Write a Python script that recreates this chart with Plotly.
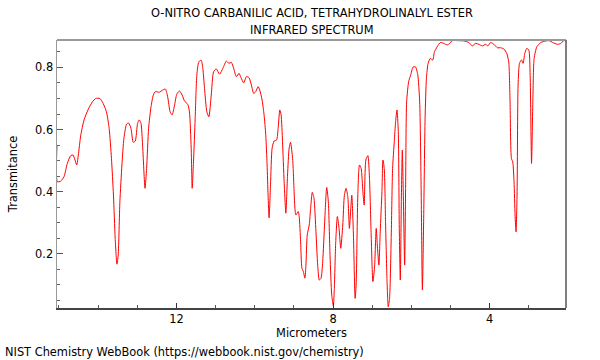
import plotly.graph_objects as go

wavelength_um = [
    15.05, 15.04, 14.956, 14.872, 14.787, 14.700, 14.641, 14.590, 14.546, 14.505,
    14.443, 14.359, 14.248, 14.146, 14.059, 13.956, 13.872, 13.787, 13.718, 13.659,
    13.608, 13.564, 13.520, 13.487, 13.444, 13.392, 13.341, 13.274, 13.223, 13.161,
    13.103, 13.051, 12.992, 12.948, 12.905, 12.864, 12.802, 12.761, 12.710, 12.649,
    12.590, 12.538, 12.436, 12.351, 12.282, 12.223, 12.162, 12.110, 12.051, 11.992,
    11.923, 11.854, 11.795, 11.710, 11.667, 11.623, 11.597, 11.564, 11.521, 11.479,
    11.428, 11.367, 11.326, 11.282, 11.223, 11.172, 11.110, 11.051, 10.982, 10.897,
    10.813, 10.726, 10.659, 10.597, 10.538, 10.469, 10.402, 10.351, 10.282, 10.213,
    10.146, 10.085, 10.026, 9.974, 9.915, 9.872, 9.812, 9.761, 9.718, 9.684,
    9.659, 9.633, 9.597, 9.556, 9.505, 9.443, 9.402, 9.359, 9.326, 9.290,
    9.249, 9.205, 9.162, 9.121, 9.085, 9.033, 9.018, 8.974, 8.949, 8.890,
    8.864, 8.828, 8.795, 8.762, 8.718, 8.692, 8.659, 8.608, 8.572, 8.530,
    8.487, 8.436, 8.392, 8.351, 8.308, 8.264, 8.213, 8.162, 8.120, 8.077,
    8.033, 7.992, 7.967, 7.931, 7.890, 7.846, 7.803, 7.751, 7.710, 7.667,
    7.623, 7.582, 7.546, 7.521, 7.479, 7.436, 7.410, 7.367, 7.325, 7.282,
    7.238, 7.205, 7.162, 7.110, 7.069, 7.026, 6.982, 6.941, 6.897, 6.864,
    6.828, 6.795, 6.751, 6.726, 6.692, 6.659, 6.623, 6.590, 6.556, 6.513,
    6.479, 6.436, 6.402, 6.367, 6.333, 6.308, 6.282, 6.256, 6.231, 6.205,
    6.171, 6.146, 6.120, 6.069, 6.018, 5.956, 5.897, 5.838, 5.787, 5.751,
    5.718, 5.685, 5.649, 5.615, 5.572, 5.513, 5.454, 5.410, 5.341, 5.256,
    5.172, 5.085, 5.018, 4.956, 4.828, 4.659, 4.531, 4.444, 4.359, 4.274,
    4.187, 4.103, 4.044, 3.974, 3.890, 3.803, 3.718, 3.633, 3.564, 3.513,
    3.479, 3.444, 3.410, 3.377, 3.351, 3.326, 3.300, 3.274, 3.238, 3.187,
    3.146, 3.103, 3.051, 3.000, 2.966, 2.930, 2.897, 2.864, 2.795, 2.692,
    2.564, 2.479, 2.392, 2.264, 2.179, 2.110, 2.050,
]

transmittance = [
    0.550, 0.432, 0.434, 0.448, 0.491, 0.516, 0.518, 0.502, 0.486, 0.518,
    0.582, 0.631, 0.666, 0.689, 0.700, 0.700, 0.684, 0.657, 0.604, 0.507,
    0.389, 0.250, 0.167, 0.196, 0.368, 0.486, 0.572, 0.617, 0.621, 0.604,
    0.559, 0.563, 0.620, 0.631, 0.620, 0.550, 0.411, 0.475, 0.604, 0.673,
    0.711, 0.722, 0.720, 0.727, 0.730, 0.705, 0.657, 0.647, 0.676, 0.713,
    0.724, 0.711, 0.692, 0.681, 0.657, 0.540, 0.411, 0.496, 0.636, 0.775,
    0.818, 0.823, 0.797, 0.732, 0.657, 0.641, 0.711, 0.786, 0.795, 0.778,
    0.797, 0.820, 0.813, 0.816, 0.797, 0.770, 0.781, 0.767, 0.750, 0.770,
    0.767, 0.743, 0.716, 0.722, 0.738, 0.727, 0.695, 0.647, 0.582, 0.486,
    0.389, 0.316, 0.422, 0.540, 0.563, 0.566, 0.604, 0.663, 0.647, 0.561,
    0.432, 0.331, 0.454, 0.540, 0.559, 0.507, 0.475, 0.347, 0.325, 0.336,
    0.320, 0.239, 0.154, 0.145, 0.122, 0.164, 0.261, 0.293, 0.347, 0.398,
    0.379, 0.271, 0.164, 0.116, 0.121, 0.175, 0.304, 0.414, 0.368, 0.196,
    0.068, 0.033, 0.089, 0.239, 0.320, 0.282, 0.218, 0.293, 0.389, 0.411,
    0.384, 0.282, 0.347, 0.389, 0.261, 0.057, 0.100, 0.389, 0.486, 0.475,
    0.400, 0.357, 0.502, 0.516, 0.443, 0.261, 0.111, 0.154, 0.282, 0.218,
    0.164, 0.271, 0.400, 0.502, 0.475, 0.304, 0.121, 0.030, 0.057, 0.261,
    0.475, 0.561, 0.625, 0.663, 0.593, 0.282, 0.116, 0.368, 0.534, 0.389,
    0.164, 0.422, 0.689, 0.754, 0.775, 0.801, 0.802, 0.778, 0.689, 0.422,
    0.084, 0.314, 0.636, 0.765, 0.813, 0.829, 0.823, 0.850, 0.866, 0.880,
    0.877, 0.872, 0.877, 0.886, 0.886, 0.885, 0.880, 0.869, 0.877, 0.874,
    0.869, 0.874, 0.869, 0.880, 0.874, 0.863, 0.863, 0.859, 0.845, 0.818,
    0.689, 0.507, 0.496, 0.432, 0.325, 0.271, 0.389, 0.743, 0.813, 0.824,
    0.813, 0.845, 0.861, 0.856, 0.775, 0.491, 0.689, 0.829, 0.866, 0.880,
    0.885, 0.886, 0.880, 0.874, 0.877, 0.886, 0.885,
]

x_tick_values = [12, 8, 4]
y_tick_values = [0.2, 0.4, 0.6, 0.8]

title_lines = ["O-NITRO CARBANILIC ACID, TETRAHYDROLINALYL ESTER", "INFRARED SPECTRUM"]
footer_text = "NIST Chemistry WebBook (https://webbook.nist.gov/chemistry)"

fig = go.Figure()
fig.add_trace(go.Scatter(
    x=wavelength_um, y=transmittance, mode="lines",
    line=dict(color="#ff0000", width=1, shape="spline", smoothing=0.6),
    hoverinfo="skip", showlegend=False,
))

font = dict(family="DejaVu Sans", size=11.4, color="black")
L, R, T, B = 57, 34, 40, 52
plot_w = 600 - L - R
plot_h = 360 - T - B

fig.update_layout(
    width=600, height=360,
    margin=dict(l=L, r=R, t=T, b=B, autoexpand=False),
    paper_bgcolor="white", plot_bgcolor="white",
    font=font,
    xaxis=dict(
        range=[15.05, 2.05], tickvals=x_tick_values, automargin=False,
        ticks="inside", ticklen=5, tickcolor="#333", tickwidth=1,
        minor=dict(dtick=1, tick0=0, ticks="inside", ticklen=3, tickcolor="#555"),
        showline=True, linecolor="#444", linewidth=1.5, mirror=False,
        showgrid=False, zeroline=False,
        title=dict(text="Micrometers", standoff=2, font=font),
        tickfont=font,
    ),
    yaxis=dict(
        range=[0.026, 0.888], tickvals=y_tick_values, automargin=False,
        ticks="inside", ticklen=6, tickcolor="#555", tickwidth=1,
        minor=dict(dtick=0.05, tick0=0, ticks="inside", ticklen=3, tickcolor="#666"),
        showline=True, linecolor="#999", linewidth=1.5, mirror=False,
        showgrid=False, zeroline=False,
        title=dict(text="Transmitance", standoff=15, font=font),
        tickfont=font,
    ),
    shapes=[
        dict(type="line", xref="paper", yref="paper", x0=0, x1=1, y0=1, y1=1,
             line=dict(color="#9a9a9a", width=2), layer="above"),
        dict(type="line", xref="paper", yref="paper", x0=1, x1=1, y0=0, y1=1,
             line=dict(color="#555", width=1.5), layer="above"),
    ],
    annotations=[
        dict(text=title_lines[0], x=(311.5 - L) / plot_w, xref="paper", yref="paper",
             y=1 + 27 / plot_h, xanchor="center", yanchor="middle",
             showarrow=False, font=font),
        dict(text=title_lines[1], x=(311.5 - L) / plot_w, xref="paper", yref="paper",
             y=1 + 10 / plot_h, xanchor="center", yanchor="middle",
             showarrow=False, font=font),
        dict(text=footer_text, x=(3 - L) / plot_w, xref="paper", yref="paper",
             y=-44 / plot_h, xanchor="left", yanchor="middle",
             showarrow=False, font=font),
    ],
)

fig.write_html("out.html", config={"displayModeBar": False, "staticPlot": True},
               post_script="document.body.style.margin='0';")
